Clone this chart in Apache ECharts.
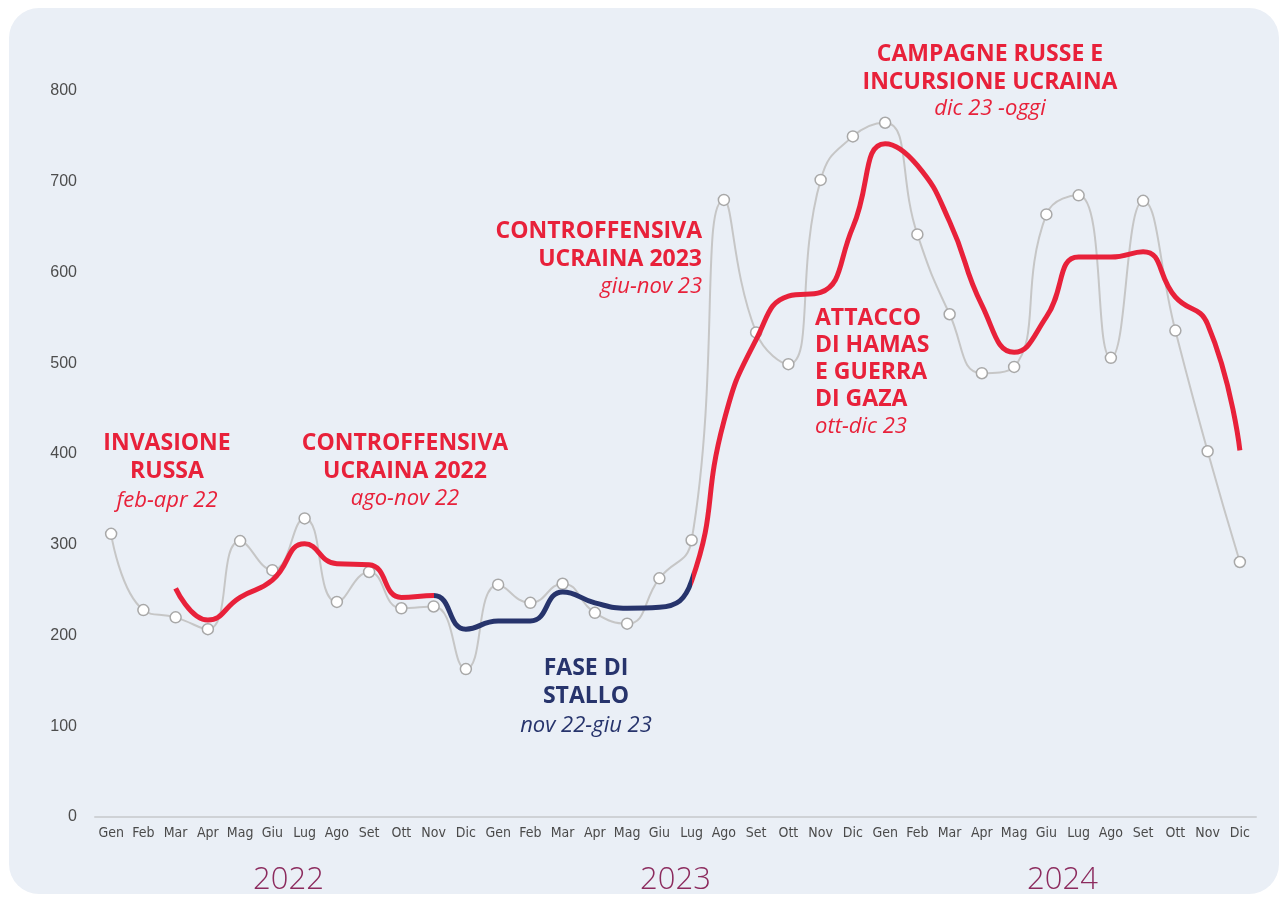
<!DOCTYPE html>
<html>
<head>
<meta charset="utf-8">
<script src="https://cdn.jsdelivr.net/npm/echarts@6/dist/echarts.min.js"></script>
<style>
  html, body { margin: 0; padding: 0; background: #fff; }
  #panel {
    position: absolute; left: 9px; top: 8px; width: 1270px; height: 886px;
    background: #eaeff6; border-radius: 30px;
  }
  #chart { position: absolute; left: 0; top: 0; width: 1282px; height: 897px; }
</style>
</head>
<body>
<div id="panel"></div>
<div id="chart"></div>
<script>
// mesi (3 anni)
const months = [
  "Gen", "Feb", "Mar", "Apr", "Mag", "Giu", "Lug", "Ago", "Set", "Ott", "Nov", "Dic",
  "Gen", "Feb", "Mar", "Apr", "Mag", "Giu", "Lug", "Ago", "Set", "Ott", "Nov", "Dic",
  "Gen", "Feb", "Mar", "Apr", "Mag", "Giu", "Lug", "Ago", "Set", "Ott", "Nov", "Dic"
];
const years = ["2022", "2023", "2024"];

// valori mensili (linea grigia con punti)
const monthly = [
  312, 228, 220, 207, 304, 272, 329, 237, 270, 230, 232, 163,
  256, 236, 257, 225, 213, 263, 305, 680, 534, 499, 702, 750,
  765, 642, 554, 489, 496, 664, 685, 506, 679, 536, 403, 281
];

// media mobile (linea rossa / blu)
const trend = [
  null, null, 252, 217, 242, 261, 301, 279, 278, 242, 244, 207,
  216, 216, 248, 236, 230, 231, 260, 436, 526, 574, 578, 650,
  742, 718, 656, 564, 512, 551, 617, 617, 623, 573, 543, 404
];

// tratto "fase di stallo" (indici mesi)
const stalloFrom = 10;
const stalloTo = 18;

const RED = "#e8213a";
const NAVY = "#27346c";

const chart = echarts.init(document.getElementById("chart"));

function label(text, x, y, align, opts) {
  return {
    type: "text",
    x: x,
    y: y,
    z: 10,
    style: Object.assign({
      text: text,
      align: align,
      verticalAlign: "top",
      fill: RED,
      fontFamily: "Open Sans",
      fontSize: 23,
      fontWeight: "bold",
      lineHeight: 28
    }, opts || {})
  };
}
function note(text, x, y, align, color) {
  return label(text, x, y, align, {
    fontWeight: "normal",
    fontStyle: "italic",
    fontSize: 22,
    verticalAlign: "middle",
    fill: color || RED
  });
}

const option = {
  animation: false,
  backgroundColor: "transparent",
  grid: { left: 95, right: 26, top: 91, bottom: 80 },
  xAxis: [
    {
      type: "category",
      data: months,
      axisLine: { lineStyle: { color: "#cfd2d6", width: 2 } },
      axisTick: { show: false },
      axisLabel: {
        interval: 0,
        margin: 9,
        color: "#4a4a4a",
        fontSize: 14,
        fontFamily: "DejaVu Sans Condensed, Liberation Sans Narrow, sans-serif"
      }
    },
    {
      type: "category",
      data: years,
      position: "bottom",
      axisLine: { show: false },
      axisTick: { show: false },
      axisLabel: {
        margin: 48,
        color: "#8c2b5e",
        fontSize: 31,
        fontWeight: 300,
        fontFamily: "Open Sans"
      }
    }
  ],
  yAxis: {
    type: "value",
    min: 0,
    max: 800,
    interval: 100,
    axisLine: { show: false },
    axisTick: { show: false },
    splitLine: { show: false },
    axisLabel: {
      margin: 18,
      color: "#4d4d4d",
      fontSize: 16,
      fontFamily: "Liberation Sans, Arial, sans-serif"
    }
  },
  visualMap: {
    show: false,
    type: "piecewise",
    seriesIndex: 1,
    dimension: 0,
    pieces: [
      { lt: stalloFrom, color: RED },
      { gte: stalloFrom, lte: stalloTo, color: NAVY },
      { gt: stalloTo, color: RED }
    ]
  },
  series: [
    {
      type: "line",
      data: monthly,
      smooth: 0.5,
      z: 2,
      symbol: "circle",
      symbolSize: 11,
      lineStyle: { color: "#c6c6c6", width: 2 },
      itemStyle: { color: "#fff", borderColor: "#a8a8a8", borderWidth: 1.5 }
    },
    {
      type: "line",
      data: trend,
      smooth: 0.5,
      z: 3,
      symbol: "none",
      lineStyle: { width: 5 }
    }
  ],
  graphic: [
    label("INVASIONE\nRUSSA", 167, 429, "center"),
    note("feb-apr 22", 167, 501, "center"),
    label("CONTROFFENSIVA\nUCRAINA 2022", 405, 429, "center"),
    note("ago-nov 22", 405, 499, "center"),
    label("FASE DI\nSTALLO", 586, 654, "center", { fill: NAVY }),
    note("nov 22-giu 23", 586, 726, "center", NAVY),
    label("CONTROFFENSIVA\nUCRAINA 2023", 702, 217, "right"),
    note("giu-nov 23", 702, 287, "right"),
    label("ATTACCO\nDI HAMAS\nE GUERRA\nDI GAZA", 815, 305, "left", { lineHeight: 27 }),
    note("ott-dic 23", 815, 427, "left"),
    label("CAMPAGNE RUSSE E\nINCURSIONE UCRAINA", 990, 40, "center"),
    note("dic 23 -oggi", 990, 109, "center")
  ]
};

chart.setOption(option);
</script>
</body>
</html>
